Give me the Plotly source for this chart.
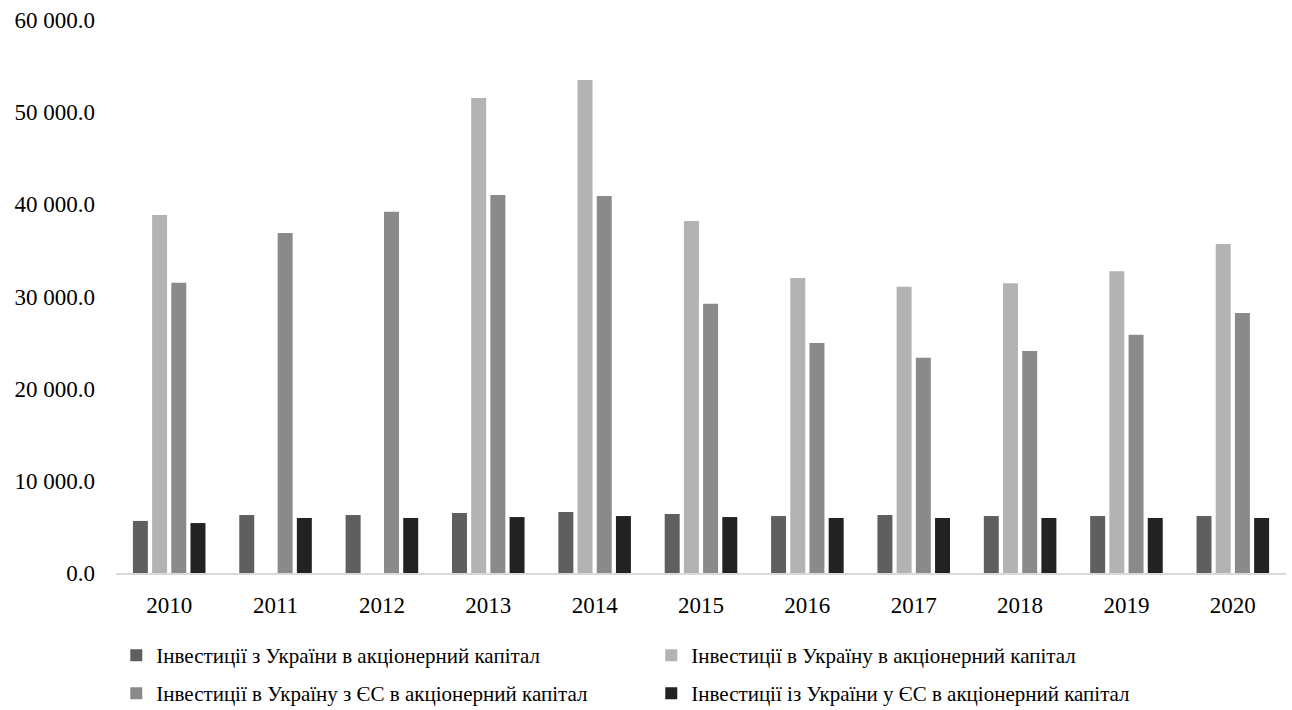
import plotly.graph_objects as go

years = ["2010", "2011", "2012", "2013", "2014", "2015", "2016", "2017", "2018", "2019", "2020"]

series_names = [
    "Інвестиції з України в акціонерний капітал",
    "Інвестиції в Україну в акціонерний капітал",
    "Інвестиції в Україну з ЄС в акціонерний капітал",
    "Інвестиції із України у ЄС в акціонерний капітал",
]

from_ukraine = [5650, 6290, 6290, 6510, 6620, 6400, 6180, 6290, 6180, 6180, 6180]
into_ukraine = [38850, None, None, 51550, 53500, 38200, 32000, 31050, 31450, 32750, 35700]
into_ukraine_eu = [31500, 36900, 39200, 41000, 40900, 29200, 24950, 23350, 24100, 25850, 28200]
from_ukraine_eu = [5420, 5970, 5970, 6070, 6180, 6070, 5970, 5970, 5970, 5970, 5970]

y_ticks = [0, 10000, 20000, 30000, 40000, 50000, 60000]
y_tick_text = ["0.0", "10 000.0", "20 000.0", "30 000.0", "40 000.0", "50 000.0", "60 000.0"]

colors = ["#5f5f5f", "#b3b3b3", "#8a8a8a", "#222222"]
values = [from_ukraine, into_ukraine, into_ukraine_eu, from_ukraine_eu]
legend_rows = ["legend", "legend", "legend2", "legend2"]

fig = go.Figure()
for name, vals, col, lg in zip(series_names, values, colors, legend_rows):
    fig.add_trace(go.Bar(x=years, y=vals, name=name, legend=lg,
                         marker=dict(color=col, line=dict(width=0))))

font = "'Liberation Serif', 'Times New Roman', 'DejaVu Serif', serif"


def legend_row(y_top):
    return dict(
        orientation="h",
        xref="container",
        yref="container",
        x=0.09,
        y=1 - y_top / 710,
        xanchor="left",
        yanchor="top",
        entrywidth=490,
        font=dict(family=font, size=21, color="#000000"),
        itemwidth=30,
        bgcolor="rgba(0,0,0,0)",
    )


fig.update_layout(
    width=1292,
    height=710,
    barmode="group",
    bargap=0.278,
    bargroupgap=0.22,
    plot_bgcolor="white",
    paper_bgcolor="white",
    margin=dict(l=116, r=6, t=20, b=137),
    font=dict(family=font, size=23, color="#000000"),
    showlegend=True,
    legend=legend_row(635),
    legend2=legend_row(673),
    xaxis=dict(
        showline=True,
        linecolor="#d9d9d9",
        linewidth=2,
        ticks="",
        showgrid=False,
        ticklabelstandoff=10,
        tickfont=dict(family=font, size=23),
    ),
    yaxis=dict(
        range=[0, 60000],
        tickvals=y_ticks,
        ticktext=y_tick_text,
        showgrid=False,
        showline=False,
        zeroline=False,
        ticks="",
        ticklabelstandoff=20,
        tickfont=dict(family=font, size=23),
    ),
)

fig.write_html("out.html")
